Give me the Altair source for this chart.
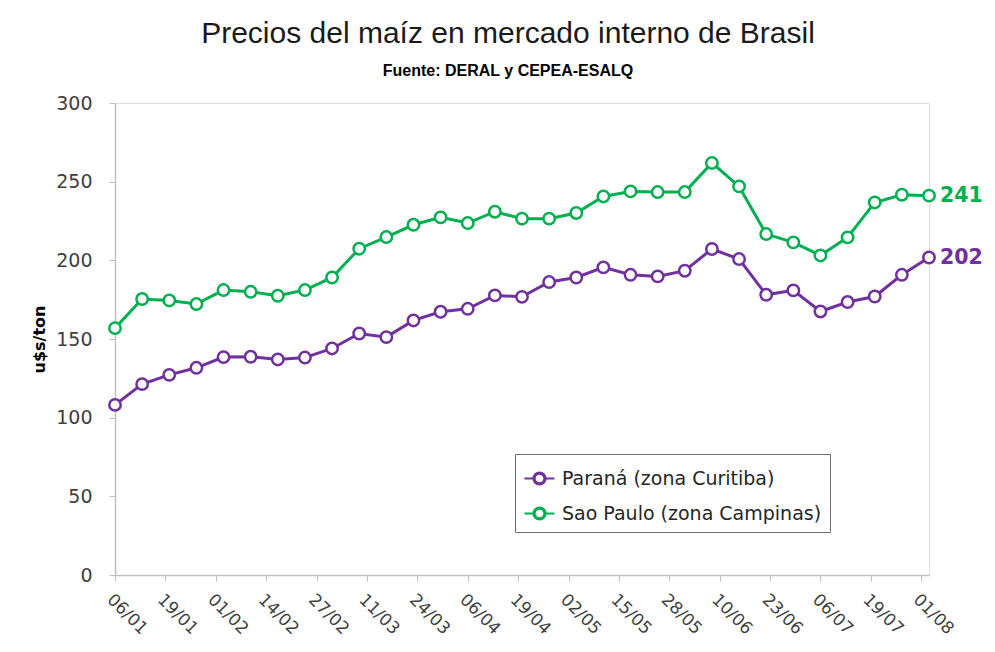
import json
import altair as alt
import pandas as pd

# ---- data -------------------------------------------------------------
# weekly observations, days counted from 06/01
days = [0, 7, 14, 21, 28, 35, 42, 49, 56, 63, 70, 77, 84, 91, 98, 105,
        112, 119, 126, 133, 140, 147, 154, 161, 168, 175, 182, 189, 196, 203, 210]

parana = [108.1, 121.3, 127.2, 131.7, 138.5, 138.7, 137.0, 138.2, 144.0, 153.5,
          151.2, 161.8, 167.3, 169.2, 177.7, 176.8, 186.2, 189.1, 195.5, 190.8,
          189.8, 193.4, 207.2, 200.8, 178.1, 180.9, 167.5, 173.5, 177.0, 190.8, 201.8]

sao_paulo = [156.9, 175.4, 174.5, 172.2, 181.1, 180.0, 177.5, 181.1, 189.1, 207.4,
             214.8, 222.6, 227.3, 223.7, 230.9, 226.5, 226.5, 230.1, 240.6, 243.8,
             243.4, 243.4, 261.9, 247.0, 216.7, 211.4, 203.1, 214.6, 236.8, 241.7, 241.1]

series_names = ["Paraná (zona Curitiba)", "Sao Paulo (zona Campinas)"]
series_colors = ["#7030A0", "#00B050"]

tick_days = [0, 13, 26, 39, 52, 65, 78, 91, 104, 117, 130, 143, 156, 169, 182, 195, 208]
tick_labels = ["06/01", "19/01", "01/02", "14/02", "27/02", "11/03", "24/03", "06/04",
               "19/04", "02/05", "15/05", "28/05", "10/06", "23/06", "06/07", "19/07", "01/08"]

y_ticks = [0, 50, 100, 150, 200, 250, 300]

# ---- table --------------------------------------------------------------
rows = []
for d, v in zip(days, parana):
    rows.append({"dia": d, "valor": v, "serie": series_names[0]})
for d, v in zip(days, sao_paulo):
    rows.append({"dia": d, "valor": v, "serie": series_names[1]})
df = pd.DataFrame(rows)
last_day = days[-1]

label_expr = json.dumps(tick_labels) + "[round(datum.value / 13)]"

x_enc = alt.X(
    "dia:Q",
    scale=alt.Scale(domain=[days[0], days[-1]], nice=False, zero=False),
    axis=alt.Axis(
        values=tick_days,
        labelExpr=label_expr,
        labelAngle=45,
        labelAlign="left",
        labelBaseline="top",
        labelPadding=10,
        labelFont="DejaVu Sans",
        labelFontSize=17,
        labelColor="#404040",
        tickSize=6,
        tickColor="#BFBFBF",
        domainColor="#BFBFBF",
        domainWidth=1.5,
        grid=False,
        title=None,
        labelOverlap=False,
    ),
)
y_enc = alt.Y(
    "valor:Q",
    scale=alt.Scale(domain=[0, 300], nice=False),
    axis=alt.Axis(
        values=y_ticks,
        labelFont="DejaVu Sans",
        labelFontSize=19,
        labelColor="#404040",
        labelPadding=17,
        tickSize=6,
        tickColor="#BFBFBF",
        domainColor="#BFBFBF",
        domainWidth=1.5,
        grid=False,
        title="u$s/ton",
        titleFont="DejaVu Sans",
        titleFontSize=16,
        titleFontWeight="bold",
        titleColor="#000000",
        titlePadding=8,
    ),
)

# legend glyph: short line, hollow ring, short line
symbol_path = ("M-1,0H-0.4M0.4,0H1"
               "M0.4,0A0.4,0.4 0 1,1 -0.4,0A0.4,0.4 0 1,1 0.4,0Z"
               "M0.33,0A0.33,0.33 0 1,0 -0.33,0A0.33,0.33 0 1,0 0.33,0Z")

color_enc = alt.Color(
    "serie:N",
    scale=alt.Scale(domain=series_names, range=series_colors),
    legend=alt.Legend(
        title=None,
        orient="none",
        legendX=400,
        legendY=351,
        symbolType=symbol_path,
        symbolSize=900,
        symbolStrokeWidth=2.2,
        symbolFillColor="white",
        labelFont="DejaVu Sans",
        labelFontSize=19,
        labelColor="#262626",
        labelOffset=6,
        labelLimit=400,
        rowPadding=8,
        padding=8,
        strokeColor="#6F6F6F",
    ),
)

base = alt.Chart(df)

lines = base.mark_line(strokeWidth=3).encode(x=x_enc, y=y_enc, color=color_enc)

points = base.mark_point(
    shape="circle", filled=False, fill="white", fillOpacity=1, size=130, strokeWidth=2.5, opacity=1
).encode(x=x_enc, y=y_enc, color=color_enc)

end_labels = base.transform_filter(
    alt.datum.dia == last_day
).mark_text(
    align="left", baseline="middle", dx=11, font="DejaVu Sans", fontSize=20.5, fontWeight="bold"
).encode(
    x=x_enc,
    y=y_enc,
    text=alt.Text("valor:Q", format=".0f"),
    color=alt.Color("serie:N", scale=alt.Scale(domain=series_names, range=series_colors), legend=None),
)

chart = alt.layer(lines, points, end_labels).properties(
    width=814,
    height=472,
    title=alt.TitleParams(
        text="Precios del maíz en mercado interno de Brasil",
        subtitle="Fuente: DERAL y CEPEA-ESALQ",
        anchor="middle",
        font="Liberation Sans",
        fontSize=30,
        fontWeight="normal",
        color="#1a1a1a",
        subtitleFont="Liberation Sans",
        subtitleFontSize=16,
        subtitleFontWeight="bold",
        subtitleColor="#000000",
        subtitlePadding=14,
        offset=15,
        dx=-14,
    ),
    autosize=alt.AutoSizeParams(type="none"),
    padding={"left": 107, "top": 95, "right": 58, "bottom": 69},
).configure_view(
    stroke=None
).configure_legend(
    strokeDash=[2, 2],
    strokeWidth=1,
    symbolFillColor="white",
).configure(
    background="white"
)

chart.save("out.html", embed_options={"renderer": "svg", "actions": False})
